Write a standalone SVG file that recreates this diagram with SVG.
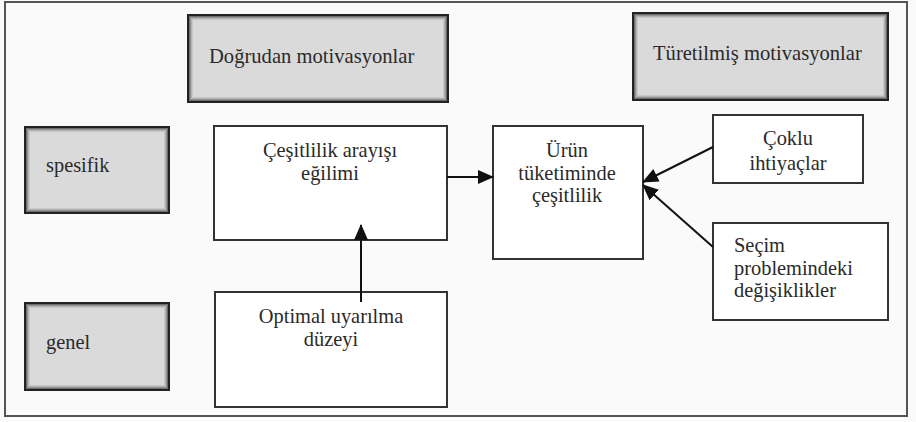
<svg xmlns="http://www.w3.org/2000/svg" width="916" height="422" viewBox="0 0 916 422">
<style>
.c{text-anchor:middle}
.box{fill:#ffffff;stroke:#333;stroke-width:2}
.sh{fill:#dadada}
.e1{fill:none;stroke:#000;stroke-opacity:0.5;stroke-width:1}
.e2{fill:none;stroke:#000;stroke-opacity:0.32;stroke-width:1}
.e3{fill:none;stroke:#000;stroke-opacity:0.18;stroke-width:1}
.e4{fill:none;stroke:#000;stroke-opacity:0.08;stroke-width:1}
.bd{fill:none;stroke:#222;stroke-width:2}
.ln{stroke:#111;stroke-width:2;fill:none}
</style>
<defs>
<marker id="ahb" markerWidth="16" markerHeight="16" refX="15" refY="8" orient="auto" markerUnits="userSpaceOnUse" viewBox="0 0 16 16">
<path d="M0,1 L16,8 L0,15 z" fill="#111"/>
</marker>
</defs>
<rect x="0" y="0" width="916" height="422" fill="#fafafa"/>
<rect x="5" y="2" width="902" height="414" fill="none" stroke="#555" stroke-width="2"/>
<g font-family="Liberation Serif, Times New Roman, serif" font-size="20.4" fill="#2a2a2a">
<g id="dogrudan"><rect class="sh" x="188" y="15" width="260" height="87"/><rect class="e1" x="189.5" y="16.5" width="257" height="84"/><rect class="e2" x="190.5" y="17.5" width="255" height="82"/><rect class="e3" x="191.5" y="18.5" width="253" height="80"/><rect class="e4" x="192.5" y="19.5" width="251" height="78"/><rect class="bd" x="188" y="15" width="260" height="87"/><text x="209" y="63" font-size="20.6">Doğrudan motivasyonlar</text></g>
<g id="turetilmis"><rect class="sh" x="633" y="13" width="255" height="87"/><rect class="e1" x="634.5" y="14.5" width="252" height="84"/><rect class="e2" x="635.5" y="15.5" width="250" height="82"/><rect class="e3" x="636.5" y="16.5" width="248" height="80"/><rect class="e4" x="637.5" y="17.5" width="246" height="78"/><rect class="bd" x="633" y="13" width="255" height="87"/><text x="653" y="60" font-size="20.6">Türetilmiş motivasyonlar</text></g>
<g id="spesifik"><rect class="sh" x="25" y="127" width="144" height="86"/><rect class="e1" x="26.5" y="128.5" width="141" height="83"/><rect class="e2" x="27.5" y="129.5" width="139" height="81"/><rect class="e3" x="28.5" y="130.5" width="137" height="79"/><rect class="e4" x="29.5" y="131.5" width="135" height="77"/><rect class="bd" x="25" y="127" width="144" height="86"/><text x="46" y="172">spesifik</text></g>
<g id="genel"><rect class="sh" x="25" y="303" width="144" height="87"/><rect class="e1" x="26.5" y="304.5" width="141" height="84"/><rect class="e2" x="27.5" y="305.5" width="139" height="82"/><rect class="e3" x="28.5" y="306.5" width="137" height="80"/><rect class="e4" x="29.5" y="307.5" width="135" height="78"/><rect class="bd" x="25" y="303" width="144" height="87"/><text x="46" y="349">genel</text></g>

<g id="cesitlilik"><rect class="box" x="214" y="126" width="233" height="114"/><text class="c" x="330" y="157">Çeşitlilik arayışı</text><text class="c" x="330" y="180">eğilimi</text></g>
<g id="urun"><rect class="box" x="493" y="126" width="150" height="133"/><text class="c" x="567" y="157">Ürün</text><text class="c" x="567" y="180">tüketiminde</text><text class="c" x="567" y="202">çeşitlilik</text></g>
<g id="optimal"><rect class="box" x="215" y="292" width="232" height="115"/><text class="c" x="331" y="323">Optimal uyarılma</text><text class="c" x="331" y="346">düzeyi</text></g>
<g id="coklu"><rect class="box" x="713" y="115" width="150" height="68"/><text class="c" x="788" y="145">Çoklu</text><text class="c" x="788" y="170">ihtiyaçlar</text></g>
<g id="secim"><rect class="box" x="713" y="223" width="175" height="97"/><text x="734" y="252">Seçim</text><text x="734" y="275">problemindeki</text><text x="734" y="297">değişiklikler</text></g>
</g>
<g id="connectors">
<line class="ln" x1="447" y1="177" x2="493" y2="177" marker-end="url(#ahb)"/>
<line class="ln" x1="361" y1="302" x2="361" y2="225" marker-end="url(#ahb)"/>
<line class="ln" x1="713" y1="147" x2="643" y2="182" marker-end="url(#ahb)"/>
<line class="ln" x1="713" y1="247" x2="643" y2="185" marker-end="url(#ahb)"/>
</g>
</svg>
